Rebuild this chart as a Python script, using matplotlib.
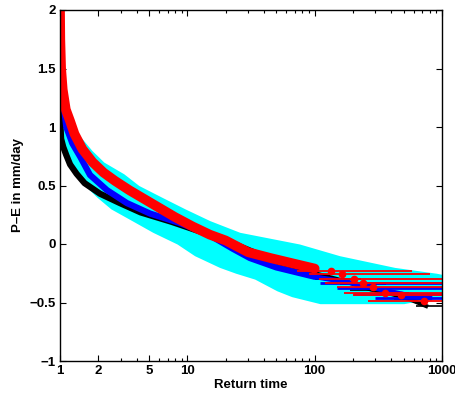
import numpy as np
import matplotlib
matplotlib.use("Agg")
import matplotlib.pyplot as plt
from matplotlib.ticker import FixedLocator, NullFormatter

# --- data (return time, P-E in mm/day) ---
# cyan spread: return-time range at each P-E level
cyan_v = [2.0, 1.6, 1.3, 1.1, 1.0, 0.9, 0.8, 0.7, 0.6, 0.5, 0.4, 0.3, 0.2, 0.1,
          0.0, -0.1, -0.2, -0.25, -0.3, -0.4, -0.45, -0.5, -0.51]
cyan_lo = [1.0, 1.0, 1.0, 1.0, 1.0, 1.04, 1.11, 1.22, 1.38, 1.57, 1.95, 2.51, 3.67, 5.35,
           8.3, 11.4, 17.9, 24, 33.8, 50.5, 66, 101, 110]
cyan_hi = [1.02, 1.02, 1.06, 1.13, 1.24, 1.49, 1.78, 2.21, 3.17, 4.16, 6.3, 9.6, 15, 25.8,
           76, 157, 425, 906, 1500, 1500, 1100, 560, 500]

black_T = [1.0, 1.003, 1.01, 1.02, 1.06, 1.12, 1.2, 1.35, 1.56, 2.06, 2.95, 4.3, 7.5, 14,
           20, 30, 50, 100]
black_v = [1.22, 1.1, 1.0, 0.9, 0.83, 0.76, 0.68, 0.6, 0.52, 0.43, 0.35, 0.27, 0.19, 0.09,
           0.03, -0.05, -0.15, -0.25]
black_tail_T = [150, 200, 280, 380, 550, 750]
black_tail_v = [-0.30, -0.34, -0.39, -0.42, -0.47, -0.53]
black_tail_lo = [100, 157, 188, 307, 420, 620]
black_tail_hi = [230, 366, 342, 555, 700, 1500]

blue_T = [1.0, 1.003, 1.01, 1.04, 1.08, 1.12, 1.25, 1.45, 1.72, 2.34, 3.35, 5.1, 8.7, 14.2,
          22.7, 31, 50, 100]
blue_v = [2.0, 1.7, 1.5, 1.33, 1.15, 1.0, 0.86, 0.74, 0.59, 0.46, 0.35, 0.26, 0.18, 0.09,
          -0.04, -0.12, -0.2, -0.28]
blue_tail_T = [188, 300, 500, 800]
blue_tail_v = [-0.33, -0.38, -0.43, -0.46]
blue_tail_lo = [110, 150, 200, 300]
blue_tail_hi = [1500, 1500, 1500, 1500]

red_T = [1.0, 1.005, 1.02, 1.05, 1.11, 1.2, 1.3, 1.5, 1.8, 2.2, 2.7, 3.5, 4.5, 6, 8, 11,
         15, 20, 30, 45, 70, 100]
red_v = [2.0, 1.75, 1.5, 1.32, 1.15, 1.05, 0.94, 0.81, 0.70, 0.61, 0.54, 0.46, 0.39, 0.31,
         0.23, 0.15, 0.08, 0.03, -0.07, -0.12, -0.17, -0.21]
red_tail_T = [135, 165, 202, 238, 285, 354, 473, 716]
red_tail_v = [-0.23, -0.26, -0.30, -0.33, -0.37, -0.42, -0.44, -0.49]
red_tail_lo = [72, 90, 109, 120, 150, 170, 200, 260]
red_tail_hi = [580, 800, 1500, 1500, 1500, 1500, 1500, 1500]

xticks = [1, 2, 5, 10, 100, 1000]
xticklabels = ["1", "2", "5", "10", "100", "1000"]
yticks = [-1, -0.5, 0, 0.5, 1, 1.5, 2]
yticklabels = ["\u22121", "\u22120.5", "0", "0.5", "1", "1.5", "2"]

plt.rcParams["font.family"] = ["Liberation Sans", "DejaVu Sans"]
plt.rcParams["font.weight"] = "bold"

fig = plt.figure(figsize=(4.56, 3.98), dpi=100)
ax = fig.add_axes([60 / 456, 1 - 361 / 398, 382 / 456, 351 / 398])


def tail(T, v, lo, hi, color, lw, fmt="none", ms=0):
    T = np.array(T)
    err = [T - np.array(lo), np.array(hi) - T]
    ax.errorbar(T, v, xerr=err, fmt=fmt, color=color, ecolor=color,
                elinewidth=lw, capsize=0, ms=ms, mec=color, mfc=color)


# cyan spread underneath
ax.fill_betweenx(cyan_v, cyan_lo, cyan_hi, color="cyan", lw=0)

# black
ax.plot(black_T, black_v, color="black", lw=4.5, solid_capstyle="round")
ax.plot([black_T[-1]] + black_tail_T, [black_v[-1]] + black_tail_v, color="black", lw=3)
tail(black_tail_T, black_tail_v, black_tail_lo, black_tail_hi, "black", 1.2)

# blue
ax.plot(blue_T, blue_v, color="blue", lw=4.5, solid_capstyle="round")
ax.plot([blue_T[-1]] + blue_tail_T, [blue_v[-1]] + blue_tail_v, color="blue", lw=3.5)
tail(blue_tail_T, blue_tail_v, blue_tail_lo, blue_tail_hi, "blue", 2)

# red
ax.plot(red_T, red_v, color="red", lw=7, solid_capstyle="round")
tail(red_tail_T, red_tail_v, red_tail_lo, red_tail_hi, "red", 1.3, fmt="o", ms=4.5)

ax.set_xscale("log")
ax.set_xlim(1, 1000)
ax.set_ylim(-1, 2)
ax.xaxis.set_major_locator(FixedLocator(xticks))
ax.set_xticklabels(xticklabels)
ax.xaxis.set_minor_locator(FixedLocator([3, 4, 6, 7, 8, 9, 20, 30, 40, 50, 60, 70, 80, 90,
                                         200, 300, 400, 500, 600, 700, 800, 900]))
ax.xaxis.set_minor_formatter(NullFormatter())
ax.set_yticks(yticks)
ax.set_yticklabels(yticklabels)

ax.tick_params(which="both", direction="in", top=True, right=True, labelsize=9.5, pad=3)
ax.tick_params(which="major", length=4, width=0.8)
ax.tick_params(which="minor", length=2.5, width=0.8)
for s in ax.spines.values():
    s.set_linewidth(1.0)

ax.set_xlabel("Return time", fontsize=9.5, fontweight="bold", labelpad=1)
ax.set_ylabel("P\u2013E in mm/day", fontsize=9.5, fontweight="bold", labelpad=4)

fig.savefig("out.png", dpi=100)
